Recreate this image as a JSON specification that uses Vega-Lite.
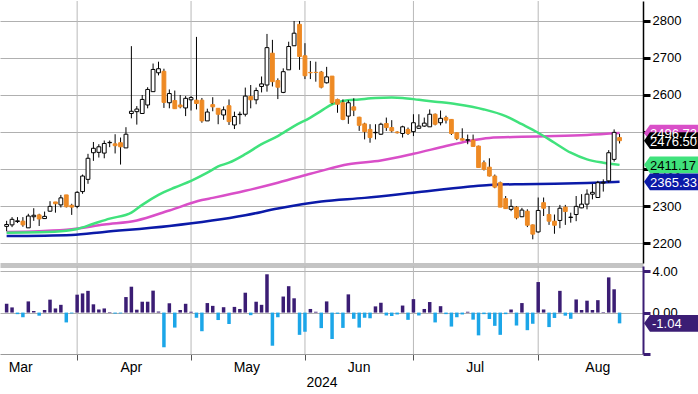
{
  "$schema": "https://vega.github.io/schema/vega-lite/v6.json",
  "padding": 0,
  "background": "white",
  "spacing": 0,
  "config": {
    "view": {"stroke": null},
    "font": "Liberation Sans",
    "axis": {"labelFont": "Liberation Sans", "labelFontSize": 13, "labelColor": "#000", "titleFont": "Liberation Sans", "titleColor": "#000"}
  },
  "datasets": {
    "ohlc": [
      {"i":0,"o":2245,"h":2260,"l":2232,"c":2250,"p":0.85},
      {"i":1,"o":2249,"h":2270,"l":2243,"c":2264,"p":0.5},
      {"i":2,"o":2258,"h":2270,"l":2254,"c":2260,"p":-0.15},
      {"i":3,"o":2259,"h":2270,"l":2244,"c":2249,"p":-0.45},
      {"i":4,"o":2241,"h":2279,"l":2241,"c":2273,"p":1.08},
      {"i":5,"o":2271,"h":2294,"l":2260,"c":2275,"p":0.15},
      {"i":6,"o":2276,"h":2279,"l":2246,"c":2265,"p":-0.3},
      {"i":7,"o":2266,"h":2285,"l":2266,"c":2272,"p":0.25},
      {"i":8,"o":2286,"h":2313,"l":2285,"c":2299,"p":1.25},
      {"i":9,"o":2311,"h":2311,"l":2282,"c":2306,"p":0.4},
      {"i":10,"o":2303,"h":2330,"l":2296,"c":2322,"p":0.75},
      {"i":11,"o":2330,"h":2330,"l":2296,"c":2298,"p":-0.95},
      {"i":12,"o":2302,"h":2306,"l":2276,"c":2297,"p":-0.08},
      {"i":13,"o":2299,"h":2340,"l":2294,"c":2337,"p":1.73},
      {"i":14,"o":2339,"h":2385,"l":2333,"c":2381,"p":1.85},
      {"i":15,"o":2372,"h":2441,"l":2360,"c":2429,"p":2.1},
      {"i":16,"o":2444,"h":2473,"l":2422,"c":2456,"p":0.8},
      {"i":17,"o":2445,"h":2467,"l":2431,"c":2460,"p":0.3},
      {"i":18,"o":2443,"h":2477,"l":2429,"c":2469,"p":0.4},
      {"i":19,"o":2471,"h":2477,"l":2459,"c":2472,"p":0.05},
      {"i":20,"o":2468,"h":2494,"l":2442,"c":2463,"p":-0.1},
      {"i":21,"o":2471,"h":2485,"l":2412,"c":2460,"p":-0.08},
      {"i":22,"o":2457,"h":2513,"l":2457,"c":2494,"p":1.5},
      {"i":23,"o":2550,"h":2732,"l":2537,"c":2556,"p":2.5},
      {"i":24,"o":2555,"h":2570,"l":2520,"c":2562,"p":0.28},
      {"i":25,"o":2550,"h":2600,"l":2550,"c":2588,"p":1.05},
      {"i":26,"o":2573,"h":2621,"l":2564,"c":2615,"p":1.05},
      {"i":27,"o":2609,"h":2685,"l":2609,"c":2669,"p":2.12},
      {"i":28,"o":2660,"h":2690,"l":2653,"c":2671,"p":0.1},
      {"i":29,"o":2664,"h":2671,"l":2565,"c":2580,"p":-3.35},
      {"i":30,"o":2579,"h":2615,"l":2564,"c":2604,"p":0.9},
      {"i":31,"o":2585,"h":2612,"l":2563,"c":2563,"p":-1.45},
      {"i":32,"o":2573,"h":2600,"l":2564,"c":2568,"p":0.25},
      {"i":33,"o":2565,"h":2597,"l":2543,"c":2591,"p":0.85},
      {"i":34,"o":2587,"h":2597,"l":2558,"c":2593,"p":0.08},
      {"i":35,"o":2586,"h":2757,"l":2561,"c":2577,"p":-0.5},
      {"i":36,"o":2586,"h":2592,"l":2525,"c":2530,"p":-1.8},
      {"i":37,"o":2530,"h":2563,"l":2530,"c":2554,"p":0.92},
      {"i":38,"o":2574,"h":2594,"l":2556,"c":2568,"p":0.65},
      {"i":39,"o":2564,"h":2564,"l":2521,"c":2548,"p":-0.72},
      {"i":40,"o":2546,"h":2569,"l":2533,"c":2560,"p":0.52},
      {"i":41,"o":2571,"h":2588,"l":2519,"c":2528,"p":-1.1},
      {"i":42,"o":2519,"h":2555,"l":2508,"c":2542,"p":0.55},
      {"i":43,"o":2547,"h":2555,"l":2521,"c":2548,"p":0.35},
      {"i":44,"o":2548,"h":2620,"l":2542,"c":2597,"p":1.92},
      {"i":45,"o":2596,"h":2627,"l":2564,"c":2587,"p":-0.25},
      {"i":46,"o":2587,"h":2620,"l":2575,"c":2612,"p":1.05},
      {"i":47,"o":2623,"h":2650,"l":2607,"c":2630,"p":0.75},
      {"i":48,"o":2627,"h":2765,"l":2609,"c":2728,"p":3.7},
      {"i":49,"o":2713,"h":2749,"l":2623,"c":2636,"p":-3.2},
      {"i":50,"o":2639,"h":2645,"l":2589,"c":2621,"p":-0.45},
      {"i":51,"o":2607,"h":2672,"l":2605,"c":2663,"p":1.55},
      {"i":52,"o":2668,"h":2744,"l":2668,"c":2731,"p":2.55},
      {"i":53,"o":2733,"h":2800,"l":2733,"c":2767,"p":1.38},
      {"i":54,"o":2791,"h":2800,"l":2668,"c":2704,"p":-2.15},
      {"i":55,"o":2706,"h":2740,"l":2643,"c":2652,"p":-1.85},
      {"i":56,"o":2661,"h":2692,"l":2643,"c":2660,"p":0.35},
      {"i":57,"o":2661,"h":2690,"l":2636,"c":2661,"p":0.08},
      {"i":58,"o":2662,"h":2665,"l":2618,"c":2621,"p":-1.5},
      {"i":59,"o":2633,"h":2676,"l":2631,"c":2649,"p":1.08},
      {"i":60,"o":2651,"h":2651,"l":2575,"c":2579,"p":-2.55},
      {"i":61,"o":2588,"h":2590,"l":2552,"c":2575,"p":-0.12},
      {"i":62,"o":2579,"h":2588,"l":2532,"c":2534,"p":-1.48},
      {"i":63,"o":2543,"h":2586,"l":2522,"c":2579,"p":1.76},
      {"i":64,"o":2568,"h":2591,"l":2543,"c":2559,"p":-0.6},
      {"i":65,"o":2540,"h":2541,"l":2503,"c":2518,"p":-1.45},
      {"i":66,"o":2522,"h":2525,"l":2480,"c":2501,"p":-0.5},
      {"i":67,"o":2507,"h":2521,"l":2471,"c":2485,"p":-0.55},
      {"i":68,"o":2498,"h":2521,"l":2480,"c":2499,"p":0.6},
      {"i":69,"o":2494,"h":2525,"l":2492,"c":2521,"p":0.95},
      {"i":70,"o":2523,"h":2539,"l":2503,"c":2512,"p":-0.28},
      {"i":71,"o":2512,"h":2532,"l":2499,"c":2503,"p":-0.33},
      {"i":72,"o":2500,"h":2502,"l":2496,"c":2498,"p":-0.18},
      {"i":73,"o":2496,"h":2517,"l":2485,"c":2514,"p":0.68},
      {"i":74,"o":2507,"h":2512,"l":2492,"c":2496,"p":-0.7},
      {"i":75,"o":2501,"h":2548,"l":2489,"c":2525,"p":1.3},
      {"i":76,"o":2510,"h":2548,"l":2509,"c":2516,"p":-0.28},
      {"i":77,"o":2516,"h":2539,"l":2514,"c":2524,"p":0.35},
      {"i":78,"o":2514,"h":2561,"l":2514,"c":2548,"p":1.02},
      {"i":79,"o":2548,"h":2550,"l":2518,"c":2521,"p":-0.95},
      {"i":80,"o":2525,"h":2558,"l":2518,"c":2537,"p":0.62},
      {"i":81,"o":2539,"h":2544,"l":2523,"c":2532,"p":-0.15},
      {"i":82,"o":2534,"h":2535,"l":2492,"c":2496,"p":-1.35},
      {"i":83,"o":2498,"h":2499,"l":2478,"c":2482,"p":-0.45},
      {"i":84,"o":2482,"h":2510,"l":2477,"c":2478,"p":-0.18},
      {"i":85,"o":2478,"h":2493,"l":2467,"c":2479,"p":0.08},
      {"i":86,"o":2478,"h":2493,"l":2460,"c":2461,"p":-0.68},
      {"i":87,"o":2462,"h":2463,"l":2403,"c":2404,"p":-2.2},
      {"i":88,"o":2417,"h":2423,"l":2396,"c":2399,"p":-0.15},
      {"i":89,"o":2405,"h":2429,"l":2380,"c":2381,"p":-0.62},
      {"i":90,"o":2381,"h":2385,"l":2348,"c":2351,"p":-1.28},
      {"i":91,"o":2363,"h":2366,"l":2297,"c":2297,"p":-2.15},
      {"i":92,"o":2320,"h":2327,"l":2292,"c":2293,"p":-0.15},
      {"i":93,"o":2291,"h":2318,"l":2286,"c":2299,"p":0.3},
      {"i":94,"o":2297,"h":2300,"l":2264,"c":2268,"p":-1.25},
      {"i":95,"o":2271,"h":2295,"l":2270,"c":2289,"p":0.92},
      {"i":96,"o":2286,"h":2291,"l":2243,"c":2248,"p":-1.7},
      {"i":97,"o":2249,"h":2250,"l":2210,"c":2224,"p":-1.08},
      {"i":98,"o":2230,"h":2323,"l":2228,"c":2288,"p":2.95},
      {"i":99,"o":2309,"h":2323,"l":2273,"c":2294,"p":0.3},
      {"i":100,"o":2277,"h":2300,"l":2249,"c":2259,"p":-1.4},
      {"i":101,"o":2259,"h":2277,"l":2225,"c":2248,"p":-0.52},
      {"i":102,"o":2261,"h":2303,"l":2240,"c":2294,"p":2.1},
      {"i":103,"o":2297,"h":2303,"l":2249,"c":2285,"p":-0.3},
      {"i":104,"o":2269,"h":2282,"l":2255,"c":2270,"p":-0.6},
      {"i":105,"o":2277,"h":2327,"l":2259,"c":2299,"p":1.27},
      {"i":106,"o":2295,"h":2332,"l":2294,"c":2305,"p":0.25},
      {"i":107,"o":2305,"h":2345,"l":2291,"c":2332,"p":1.15},
      {"i":108,"o":2332,"h":2360,"l":2318,"c":2337,"p":0.25},
      {"i":109,"o":2323,"h":2368,"l":2322,"c":2363,"p":1.2},
      {"i":110,"o":2362,"h":2372,"l":2339,"c":2364,"p":0.05},
      {"i":111,"o":2368,"h":2451,"l":2363,"c":2444,"p":3.4},
      {"i":112,"o":2426,"h":2507,"l":2420,"c":2499,"p":2.25},
      {"i":113,"o":2485,"h":2495,"l":2469,"c":2476.5,"p":-1.04}
    ],
    "ma": [
      {"s":"MA200","i":0,"v":2219},{"s":"MA200","i":12,"v":2222},{"s":"MA200","i":18,"v":2230},{"s":"MA200","i":30,"v":2246},{"s":"MA200","i":44,"v":2275},{"s":"MA200","i":50,"v":2293},{"s":"MA200","i":58,"v":2312},{"s":"MA200","i":66,"v":2322},{"s":"MA200","i":75,"v":2336},{"s":"MA200","i":85,"v":2352},{"s":"MA200","i":89,"v":2357},{"s":"MA200","i":95,"v":2359},{"s":"MA200","i":101,"v":2360},{"s":"MA200","i":107,"v":2362},{"s":"MA200","i":113,"v":2365.33},
      {"s":"MA50","i":0,"v":2230},{"s":"MA50","i":6,"v":2232},{"s":"MA50","i":12,"v":2237},{"s":"MA50","i":18,"v":2250},{"s":"MA50","i":24,"v":2261},{"s":"MA50","i":30,"v":2288},{"s":"MA50","i":36,"v":2316},{"s":"MA50","i":38,"v":2322},{"s":"MA50","i":44,"v":2341},{"s":"MA50","i":50,"v":2363},{"s":"MA50","i":56,"v":2387},{"s":"MA50","i":58,"v":2395},{"s":"MA50","i":63,"v":2413},{"s":"MA50","i":69,"v":2423},{"s":"MA50","i":75,"v":2441},{"s":"MA50","i":81,"v":2462},{"s":"MA50","i":85,"v":2475},{"s":"MA50","i":89,"v":2484},{"s":"MA50","i":95,"v":2487},{"s":"MA50","i":101,"v":2489},{"s":"MA50","i":107,"v":2492},{"s":"MA50","i":113,"v":2497},
      {"s":"MA20","i":0,"v":2228},{"s":"MA20","i":6,"v":2229},{"s":"MA20","i":11,"v":2233},{"s":"MA20","i":13,"v":2238},{"s":"MA20","i":16,"v":2252},{"s":"MA20","i":19,"v":2266},{"s":"MA20","i":23,"v":2282},{"s":"MA20","i":25,"v":2303},{"s":"MA20","i":28,"v":2330},{"s":"MA20","i":31,"v":2350},{"s":"MA20","i":34,"v":2368},{"s":"MA20","i":37,"v":2390},{"s":"MA20","i":39,"v":2407},{"s":"MA20","i":41,"v":2417},{"s":"MA20","i":44,"v":2440},{"s":"MA20","i":47,"v":2467},{"s":"MA20","i":50,"v":2489},{"s":"MA20","i":53,"v":2516},{"s":"MA20","i":56,"v":2539},{"s":"MA20","i":58,"v":2557},{"s":"MA20","i":60,"v":2575},{"s":"MA20","i":62,"v":2584},{"s":"MA20","i":65,"v":2588},{"s":"MA20","i":68,"v":2592},{"s":"MA20","i":71,"v":2593},{"s":"MA20","i":73,"v":2592},{"s":"MA20","i":76,"v":2587},{"s":"MA20","i":79,"v":2582},{"s":"MA20","i":83,"v":2575},{"s":"MA20","i":88,"v":2561},{"s":"MA20","i":92,"v":2543},{"s":"MA20","i":95,"v":2521},{"s":"MA20","i":98,"v":2498},{"s":"MA20","i":101,"v":2471},{"s":"MA20","i":104,"v":2444},{"s":"MA20","i":107,"v":2426},{"s":"MA20","i":110,"v":2417},{"s":"MA20","i":113,"v":2411.17}
    ],
    "tags": [
      {"s":"MA50","v":2497,"label":"2496.72"},
      {"s":"Last","v":2476.5,"label":"2476.50"},
      {"s":"MA20","v":2411.17,"label":"2411.17"},
      {"s":"MA200","v":2365.33,"label":"2365.33"}
    ],
    "tag2": [
      {"s":"Chg","v":-1.04,"label":"-1.04"}
    ],
    "vgrid": [{"i":13},{"i":34},{"i":55},{"i":75},{"i":98}]
  },
  "vconcat": [
    {
      "width": 643,
      "height": 262,
      "layer": [
        {
          "data": {"name": "vgrid"},
          "mark": {"type": "rule", "stroke": "#b9b9b9", "strokeWidth": 1},
          "encoding": {
            "x": {"field": "i", "type": "quantitative", "scale": {"domain": [-0.3, 116.4], "nice": false, "zero": false}},
            "y": {"datum": 2146, "type": "quantitative", "scale": {"domain": [2146, 2854], "nice": false, "zero": false}},
            "y2": {"datum": 2854}
          }
        },
        {
          "data": {"name": "ma"},
          "mark": {"type": "line", "strokeWidth": 2.5, "interpolate": "monotone"},
          "encoding": {
            "x": {"field": "i", "type": "quantitative", "scale": {"domain": [-0.3, 116.4], "nice": false, "zero": false},
              "axis": {"orient": "bottom", "grid": false, "labels": false, "ticks": false, "domain": true, "domainColor": "#c4c4c4", "domainWidth": 5, "offset": 2, "title": null}},
            "y": {"field": "v", "type": "quantitative", "scale": {"domain": [2146, 2854], "nice": false, "zero": false},
              "axis": {"orient": "right", "values": [2200, 2250, 2300, 2350, 2400, 2450, 2500, 2550, 2600, 2650, 2700, 2750, 2800, 2850], "format": "d",
                "labelExpr": "datum.value % 100 === 0 ? datum.label : ''", "labelOverlap": false, "labelPadding": 2,
                "grid": true, "gridColor": "#b0b0b0", "gridWidth": 1,
                "gridOpacity": {"condition": {"test": "datum.value % 100 === 0", "value": 1}, "value": 0},
                "tickColor": "#000",
                "tickSize": {"condition": {"test": "datum.value % 100 === 0", "value": 7}, "value": 4},
                "tickWidth": {"condition": {"test": "datum.value % 100 === 0", "value": 3}, "value": 1},
                "domainColor": "#000", "domainWidth": 1.5, "title": null, "zindex": 0}},
            "color": {"field": "s", "type": "nominal", "scale": {"domain": ["MA200", "MA50", "MA20", "Last"], "range": ["#0b1aa8", "#d94fc8", "#40e27c", "#000000"]}, "legend": null}
          }
        },
        {
          "data": {"name": "ohlc"},
          "mark": {"type": "rule", "color": "#000", "strokeWidth": 1},
          "encoding": {
            "x": {"field": "i", "type": "quantitative"},
            "y": {"field": "l", "type": "quantitative"},
            "y2": {"field": "h"}
          }
        },
        {
          "data": {"name": "ohlc"},
          "mark": {"type": "bar", "width": 3.8, "strokeWidth": 1},
          "encoding": {
            "x": {"field": "i", "type": "quantitative"},
            "y": {"field": "o", "type": "quantitative"},
            "y2": {"field": "c"},
            "fill": {"condition": {"test": "datum.c > datum.o", "value": "#ffffff"}, "value": "#ee8a24"},
            "stroke": {"condition": {"test": "datum.c > datum.o", "value": "#000000"}, "value": "#ee8a24"}
          }
        },
        {
          "data": {"name": "tags"},
          "mark": {"type": "point", "shape": "M -1 0 L -0.78 -0.31 L 1 -0.31 L 1 0.31 L -0.78 0.31 Z", "size": 2916, "filled": true, "opacity": 1, "xOffset": 28, "strokeWidth": 0},
          "encoding": {
            "x": {"value": "width"},
            "y": {"field": "v", "type": "quantitative"},
            "color": {"field": "s", "type": "nominal", "legend": null}
          }
        },
        {
          "data": {"name": "tags"},
          "mark": {"type": "text", "align": "left", "baseline": "middle", "xOffset": 7, "dy": 1, "fontSize": 13, "font": "Liberation Sans"},
          "encoding": {
            "x": {"value": "width"},
            "y": {"field": "v", "type": "quantitative"},
            "text": {"field": "label"},
            "color": {"condition": {"test": "datum.s === 'MA20'", "value": "#000000"}, "value": "#ffffff"}
          }
        }
      ]
    },
    {
      "width": 643,
      "height": 88,
      "layer": [
        {
          "data": {"name": "vgrid"},
          "mark": {"type": "rule", "stroke": "#b9b9b9", "strokeWidth": 1},
          "encoding": {
            "x": {"field": "i", "type": "quantitative", "scale": {"domain": [-0.3, 116.4], "nice": false, "zero": false}},
            "y": {"datum": -4, "type": "quantitative", "scale": {"domain": [-4, 4.5], "nice": false}},
            "y2": {"datum": 4.5}
          }
        },
        {
          "data": {"name": "ohlc"},
          "mark": {"type": "bar", "width": 3.5},
          "encoding": {
            "x": {"field": "i", "type": "quantitative", "scale": {"domain": [-0.3, 116.4], "nice": false, "zero": false},
              "axis": {"orient": "bottom", "values": [2.5, 13, 22.9, 34, 44.2, 55, 64.9, 75, 86.3, 98, 108.9],
                "labelExpr": "datum.value % 1 === 0 ? '' : datum.value < 13 ? 'Mar' : datum.value < 34 ? 'Apr' : datum.value < 55 ? 'May' : datum.value < 75 ? 'Jun' : datum.value < 98 ? 'Jul' : 'Aug'",
                "labelOverlap": false, "labelPadding": 0, "labelFontSize": 14, "grid": false,
                "tickColor": "#555555", "tickSize": 6,
                "tickOpacity": {"condition": {"test": "datum.value % 1 === 0", "value": 1}, "value": 0},
                "domainColor": "#9a9a9a",
                "title": "2024", "titleFontWeight": "normal", "titleFontSize": 14, "titlePadding": 1, "zindex": 0}},
            "y": {"field": "p", "type": "quantitative", "scale": {"domain": [-4, 4.5], "nice": false},
              "axis": {"orient": "right", "values": [-4, -2, 0, 2, 4],
                "labelExpr": "datum.value === 4 ? '4.00' : datum.value === 2 ? '2.00' : datum.value === 0 ? '0.00' : datum.value === -2 ? '-2.00' : ''",
                "labelOverlap": false, "labelPadding": 2,
                "grid": true, "gridColor": "#b0b0b0", "gridWidth": 1,
                "gridOpacity": {"condition": {"test": "datum.value === -4", "value": 0}, "value": 1},
                "tickColor": "#3b1d74", "tickSize": 7, "tickWidth": 3,
                "domainColor": "#3b1d74", "domainWidth": 2, "title": null, "zindex": 0}},
            "color": {"condition": {"test": "datum.p >= 0", "value": "#3b1d74"}, "value": "#1ca6e8"}
          }
        },
        {
          "data": {"name": "tag2"},
          "mark": {"type": "point", "shape": "M -1 0 L -0.78 -0.31 L 1 -0.31 L 1 0.31 L -0.78 0.31 Z", "size": 2916, "filled": true, "opacity": 1, "xOffset": 28, "strokeWidth": 0, "color": "#3b1d74"},
          "encoding": {
            "x": {"value": "width"},
            "y": {"field": "v", "type": "quantitative"}
          }
        },
        {
          "data": {"name": "tag2"},
          "mark": {"type": "text", "align": "left", "baseline": "middle", "xOffset": 9, "dy": 1, "fontSize": 13, "color": "#ffffff", "font": "Liberation Sans"},
          "encoding": {
            "x": {"value": "width"},
            "y": {"field": "v", "type": "quantitative"},
            "text": {"field": "label"}
          }
        }
      ]
    }
  ]
}
